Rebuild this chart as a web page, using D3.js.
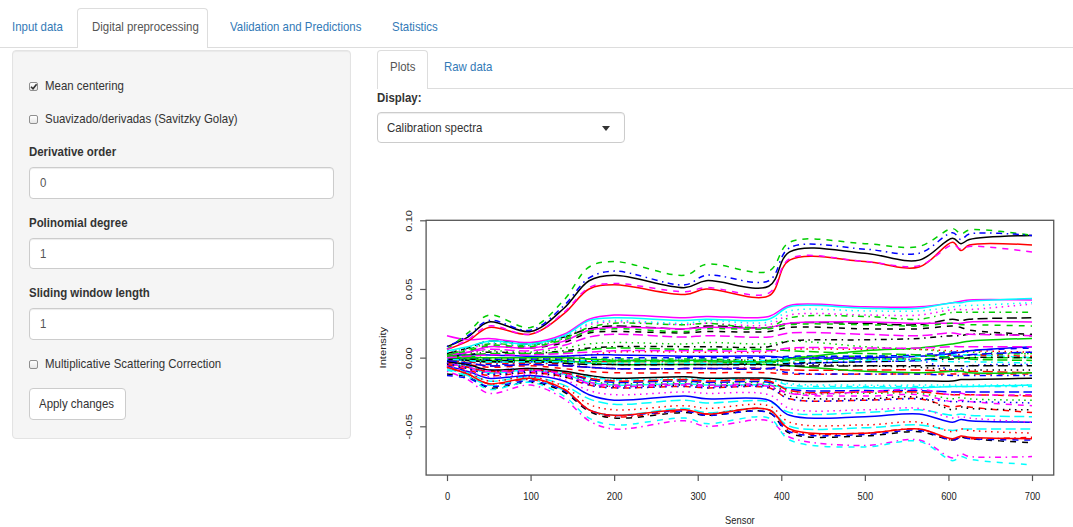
<!DOCTYPE html>
<html>
<head>
<meta charset="utf-8">
<script src="https://cdnjs.cloudflare.com/ajax/libs/d3/7.8.5/d3.min.js"></script>
<style>
  html, body { margin: 0; padding: 0; background: #fff; }
  body { width: 1073px; height: 527px; overflow: hidden; position: relative;
         font-family: "Liberation Sans", Arial, sans-serif; color: #333; }
  .t { position: absolute; font-size: 13px; line-height: 14px; white-space: nowrap;
       transform: scaleX(0.88); transform-origin: 0 50%; }
  .b { font-weight: bold; }
  .link { color: #337ab7; }
  .box { position: absolute; box-sizing: border-box; }
  .tab { background: #fff; border: 1px solid #ddd; border-bottom: none; border-radius: 4px 4px 0 0; }
  .well { background: #f5f5f5; border: 1px solid #e3e3e3; border-radius: 4px;
          box-shadow: inset 0 1px 1px rgba(0,0,0,.05); }
  .input { background: #fff; border: 1px solid #ccc; border-radius: 4px;
           box-shadow: inset 0 1px 1px rgba(0,0,0,.075); }
  .chk { width: 9px; height: 9px; border: 1px solid #8f8f8f; border-radius: 2px;
         background: linear-gradient(#fff, #e6e6e6); }
  .caret { width: 0; height: 0; border-left: 4px solid transparent; border-right: 4px solid transparent;
           border-top: 5px solid #333; }
  #chart { position: absolute; left: 0; top: 0; }
</style>
</head>
<body>
<!-- top tabs -->
<div class="box" style="left:0;top:47px;width:1073px;height:1px;background:#ddd"></div>
<div class="box tab" style="left:77px;top:8px;width:131px;height:40px"></div>
<div class="t link" style="left:12px;top:20px">Input data</div>
<div class="t" style="left:92px;top:20px;color:#555">Digital preprocessing</div>
<div class="t link" style="left:230px;top:20px">Validation and Predictions</div>
<div class="t link" style="left:392px;top:20px">Statistics</div>

<!-- sidebar -->
<div class="box well" style="left:12px;top:50px;width:339px;height:389px"></div>
<div class="box chk" style="left:29px;top:82px"><svg width="9" height="9" style="display:block;margin:-1px"><path d="M2 4.8 L4 6.8 L7.6 2.2" stroke="#333" stroke-width="1.6" fill="none"/></svg></div>
<div class="t" style="left:45px;top:79px">Mean centering</div>
<div class="box chk" style="left:29px;top:115px"></div>
<div class="t" style="left:45px;top:112px">Suavizado/derivadas (Savitzky Golay)</div>
<div class="t b" style="left:29px;top:145px">Derivative order</div>
<div class="box input" style="left:29px;top:167px;width:305px;height:32px"></div>
<div class="t" style="left:40px;top:176px;color:#555">0</div>
<div class="t b" style="left:29px;top:216px">Polinomial degree</div>
<div class="box input" style="left:29px;top:238px;width:305px;height:31px"></div>
<div class="t" style="left:40px;top:247px;color:#555">1</div>
<div class="t b" style="left:29px;top:286px">Sliding window length</div>
<div class="box input" style="left:29px;top:308px;width:305px;height:32px"></div>
<div class="t" style="left:40px;top:317px;color:#555">1</div>
<div class="box chk" style="left:29px;top:360px"></div>
<div class="t" style="left:45px;top:357px">Multiplicative Scattering Correction</div>
<div class="box" style="left:29px;top:388px;width:97px;height:32px;background:#fff;border:1px solid #ccc;border-radius:4px"></div>
<div class="t" style="left:39px;top:397px">Apply changes</div>

<!-- main panel -->
<div class="box" style="left:377px;top:88px;width:696px;height:1px;background:#ddd"></div>
<div class="box tab" style="left:377px;top:50px;width:51px;height:39px"></div>
<div class="t" style="left:390px;top:60px;color:#555">Plots</div>
<div class="t link" style="left:444px;top:60px">Raw data</div>
<div class="t b" style="left:377px;top:91px">Display:</div>
<div class="box input" style="left:377px;top:112px;width:248px;height:31px"></div>
<div class="t" style="left:387px;top:121px">Calibration spectra</div>
<div class="box caret" style="left:602px;top:126px"></div>

<svg id="chart" width="1073" height="527"></svg>

<script>
"use strict";

const sensorPoints = [0, 25, 50, 100, 140, 170, 200, 285, 310, 385, 410, 500, 565, 605, 615, 625, 700];

// mean centered calibration spectra, intensity x 1e-3, in matplot column order
const spectra = [
  [8, 15, 26, 19, 36, 56, 60, 51, 56, 52, 77, 76, 71, 87, 83, 86, 89],
  [-3, -5, -7, -6, -8, -10, -11, -11, -11, -11, -12, -12, -12, -12, -12, -12, -12],
  [0, 3, 5, 4, 7, 10, 11, 10, 11, 10, 12, 8, 6, 4, 4, 4, 3],
  [-2, -3, -5, -4, -5, -7, -8, -8, -8, -8, -11, -12, -12, -13, -13, -13, -13],
  [-6, -11, -17, -14, -20, -30, -34, -31, -33, -32, -40, -40, -38, -42, -41, -42, -43],
  [16, 13, 14, 11, 17, 28, 31, 29, 30, 30, 38, 37, 37, 40, 41, 42, 42],
  [1, 4, 8, 7, 11, 18, 19, 18, 19, 19, 22, 21, 21, 23, 22, 20, 17],
  [1, 0, 0, 0, 1, 2, 4, 4, 4, 4, 6, 6, 6, 5, 5, 5, 4],
  [1, 1, 0, 0, 0, -1, -1, -1, -1, -2, 0, 1, 1, 2, 2, 2, 3],
  [-3, -6, -9, -8, -11, -16, -18, -17, -18, -18, -23, -24, -24, -25, -25, -25, -25],
  [-4, -7, -11, -9, -12, -18, -20, -19, -20, -20, -22, -22, -22, -21, -21, -21, -20],
  [-5, -8, -11, -10, -13, -18, -20, -19, -20, -20, -26, -28, -27, -32, -31, -32, -35],
  [0, -1, -1, -1, -1, -2, -2, -2, -2, -2, -4, -6, -7, -9, -9, -9, -9],
  [-2, -3, -4, -4, -4, -3, -3, -3, -3, -3, -1, 0, 1, 2, 2, 2, 1],
  [-1, -2, -3, -3, -3, -3, -3, -3, -3, -4, -2, -1, -1, 0, 0, 0, 0],
  [2, 2, 2, 1, 1, 2, 2, 1, 1, 1, 0, 0, 1, 3, 4, 5, 8],
  [-2, -2, -3, -3, -3, -2, -2, -2, -2, -2, 0, 1, 1, 2, 2, 2, 0],
  [3, 6, 10, 8, 14, 24, 26, 24, 25, 24, 31, 31, 31, 35, 35, 35, 39],
  [1, 2, 4, 3, 5, 7, 8, 8, 8, 8, 12, 13, 14, 16, 16, 17, 16],
  [-2, -4, -6, -5, -6, -7, -8, -8, -8, -8, -9, -9, -9, -10, -10, -10, -11],
  [-1, -1, -2, -2, -2, -4, -5, -5, -5, -5, -6, -10, -11, -10, -10, -11, -11],
  [0, 0, -1, -1, -1, 0, 0, 0, 0, 0, 1, 1, 2, 4, 4, 5, 7],
  [-3, -6, -9, -8, -10, -14, -16, -15, -16, -16, -19, -20, -20, -20, -20, -20, -20],
  [-10, -16, -26, -20, -30, -46, -52, -46, -50, -46, -58, -64, -60, -73, -70, -72, -72],
  [3, 7, 12, 10, 15, 21, 23, 21, 23, 22, 25, 25, 24, 28, 27, 28, 29],
  [6, 12, 22, 17, 32, 50, 53, 46, 50, 45, 71, 70, 66, 84, 78, 82, 82],
  [6, 18, 31, 22, 42, 66, 70, 60, 68, 63, 84, 83, 81, 94, 90, 93, 89],
  [-1, -2, -3, -3, -3, -2, -2, -2, -2, -3, 0, -1, -2, -9, -8, -6, -5],
  [-4, -7, -11, -9, -11, -14, -16, -16, -16, -16, -20, -21, -21, -21, -21, -21, -21],
  [2, 4, 6, 5, 9, 15, 17, 15, 16, 15, 18, 17, 16, 18, 17, 17, 16],
  [-3, -5, -9, -8, -10, -13, -15, -14, -15, -15, -17, -17, -17, -17, -16, -16, -15],
  [-5, -9, -13, -11, -14, -20, -22, -21, -22, -22, -30, -31, -30, -36, -35, -36, -40],
  [-4, -7, -10, -9, -12, -17, -19, -18, -19, -19, -25, -26, -26, -30, -29, -30, -31],
  [8, 16, 27, 20, 38, 58, 63, 53, 60, 56, 80, 79, 76, 91, 86, 90, 89],
  [-8, -13, -20, -16, -24, -38, -42, -37, -40, -38, -50, -51, -49, -53, -52, -52, -52],
  [2, 4, 8, 7, 12, 20, 22, 21, 22, 22, 25, 26, 25, 25, 25, 26, 26],
  [-12, -14, -22, -18, -25, -39, -44, -40, -42, -40, -55, -57, -54, -60, -58, -59, -62],
  [-7, -11, -17, -14, -21, -34, -38, -35, -37, -35, -47, -49, -47, -54, -52, -53, -55],
  [2, 6, 10, 9, 14, 22, 25, 24, 25, 22, 29, 30, 28, 33, 33, 33, 33],
  [-2, -4, -6, -5, -6, -7, -8, -8, -8, -8, -5, -3, -2, 1, 1, 2, 4],
  [5, 8, 12, 10, 16, 27, 29, 27, 28, 28, 37, 36, 36, 40, 40, 41, 43],
  [6, 13, 23, 17, 33, 51, 54, 48, 51, 47, 72, 70, 67, 82, 79, 81, 77],
  [-5, -8, -12, -11, -14, -19, -21, -20, -21, -21, -28, -30, -29, -38, -36, -37, -38],
  [-7, -12, -19, -16, -23, -38, -43, -39, -41, -38, -53, -55, -52, -60, -58, -59, -58],
  [1, 2, 3, 3, 4, 6, 7, 6, 6, 6, 5, 3, 2, 0, 0, -1, -2],
  [-6, -10, -15, -13, -17, -27, -31, -28, -30, -31, -42, -43, -41, -47, -45, -46, -47],
  [-9, -14, -23, -18, -28, -44, -49, -44, -48, -44, -60, -65, -61, -75, -72, -74, -78],
  [-6, -10, -14, -12, -16, -24, -27, -25, -26, -27, -37, -38, -37, -44, -43, -44, -47],
  [-1, -1, -2, -2, -3, -4, -5, -5, -5, -5, -4, -3, -2, -1, -1, 0, 0],
  [-4, -7, -10, -9, -11, -15, -17, -16, -17, -17, -24, -25, -25, -27, -27, -27, -28],
  [0, 0, 0, 0, 0, -1, -2, -2, -2, -3, -1, 5, 7, 10, 11, 12, 14],
  [-13, -15, -21, -17, -24, -38, -42, -39, -42, -40, -54, -56, -53, -60, -58, -59, -60],
  [4, 7, 11, 9, 15, 25, 27, 25, 27, 26, 34, 34, 34, 37, 38, 38, 40],
  [-4, -7, -10, -9, -12, -19, -21, -20, -21, -21, -26, -25, -23, -27, -26, -27, -27],
  [-1, -2, -3, -3, -4, -5, -5, -5, -5, -5, -6, -6, -6, -6, -6, -6, -6],
  [-7, -12, -19, -15, -23, -38, -42, -38, -41, -38, -52, -55, -52, -59, -57, -58, -59],
  [2, 5, 9, 8, 13, 19, 21, 19, 21, 21, 24, 24, 23, 25, 24, 24, 23],
  [-4, -8, -12, -10, -13, -20, -22, -21, -22, -22, -30, -31, -30, -32, -32, -32, -33],
  [-1, -2, -3, -3, -3, -4, -4, -4, -4, -4, -3, -2, -2, -3, -3, -3, -4],
  [0, 1, 2, 2, 3, 4, 5, 5, 5, 5, 7, 7, 7, 8, 8, 8, 8]
];

const xTicks = [0, 100, 200, 300, 400, 500, 600, 700];
const yTicks = [-0.05, 0, 0.05, 0.10];

// R default palette and lty 1:5, like matplot
const palette = ["#000000", "#FF0000", "#00CD00", "#0000FF", "#00FFFF", "#FF00FF"];
const dashes = [null, "6,6", "1.5,4.5", "1.5,4.5,6,4.5", "10,4.5"];

const x = d3.scaleLinear().domain([0, 700]).range([447, 1032]);
const y = d3.scaleLinear().domain([-0.05, 0.10]).range([426.3, 220.3]);

const boxLeft = x(-25), boxRight = x(726);
const boxTop = y(0.10), boxBottom = y(-0.0855);

const svg = d3.select("#chart");
const font = "'Liberation Sans', Arial, sans-serif";

//spectra
const line = d3.line()
  .x((d, i) => x(sensorPoints[i]))
  .y((d) => y(d / 1000))
  .curve(d3.curveCatmullRom.alpha(0.5));

svg.append("g")
  .selectAll("path")
  .data(spectra)
  .join("path")
  .attr("d", line)
  .attr("fill", "none")
  .attr("stroke", (d, i) => palette[i % 6])
  .attr("stroke-dasharray", (d, i) => dashes[i % 5])
  .attr("stroke-width", 1.5);

//box
svg.append("rect")
  .attr("x", boxLeft)
  .attr("y", boxTop)
  .attr("width", boxRight - boxLeft)
  .attr("height", boxBottom - boxTop)
  .attr("fill", "none")
  .attr("stroke", "#555")
  .attr("stroke-width", 1.3);

//axes
const gx = svg.append("g")
  .attr("transform", "translate(0," + boxBottom + ")")
  .call(d3.axisBottom(x).tickValues(xTicks).tickSize(6).tickSizeOuter(0));
gx.select(".domain").remove();
gx.selectAll(".tick line").attr("stroke", "#555").attr("stroke-width", 1.2);
gx.selectAll(".tick text")
  .attr("y", 0)
  .attr("dy", "0.35em")
  .attr("transform", "translate(0,21) scale(0.78,0.93)")
  .attr("font-size", 12)
  .attr("font-family", font)
  .attr("fill", "#222");

const gy = svg.append("g")
  .attr("transform", "translate(" + boxLeft + ",0)")
  .call(d3.axisLeft(y).tickValues(yTicks).tickSize(6).tickSizeOuter(0)
    .tickFormat((d) => d.toFixed(2)));
gy.select(".domain").remove();
gy.selectAll(".tick line").attr("stroke", "#555").attr("stroke-width", 1.2);
gy.selectAll(".tick text")
  .attr("x", 0)
  .attr("dy", "0.35em")
  .attr("text-anchor", "middle")
  .attr("transform", "translate(-17,0) rotate(-90) scale(0.93,0.78)")
  .attr("font-size", 12)
  .attr("font-family", font)
  .attr("fill", "#222");

//axis titles
svg.append("text")
  .attr("transform", "translate(" + (boxLeft + boxRight) / 2 + ",520) scale(0.78,0.93)")
  .attr("text-anchor", "middle")
  .attr("dy", "0.35em")
  .attr("font-size", 12)
  .attr("font-family", font)
  .attr("fill", "#222")
  .text("Sensor");

svg.append("text")
  .attr("transform", "translate(383," + (boxTop + boxBottom) / 2 + ") rotate(-90) scale(0.93,0.78)")
  .attr("text-anchor", "middle")
  .attr("dy", "0.35em")
  .attr("font-size", 12)
  .attr("font-family", font)
  .attr("fill", "#222")
  .text("Intensity");
</script>
</body>
</html>
